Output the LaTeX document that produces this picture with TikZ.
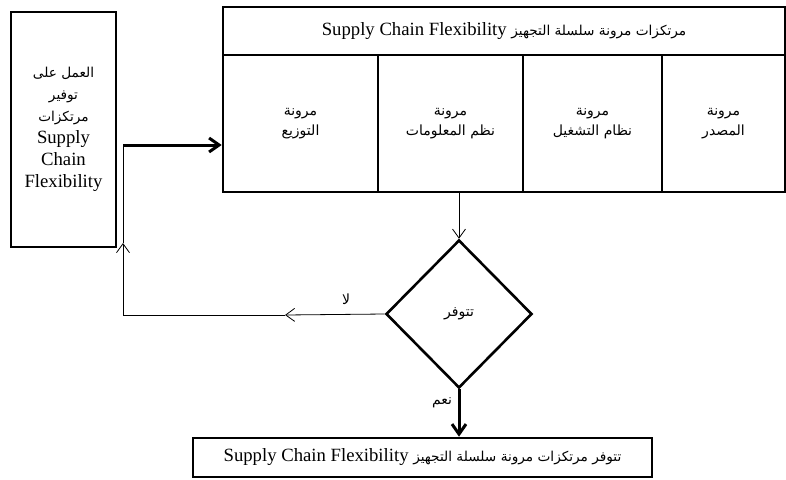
\documentclass[tikz,border=0pt]{standalone}
\usepackage{fontspec}
\setmainfont{Liberation Serif}
\newfontfamily\ar[Script=Arabic,Scale=0.73]{DejaVu Sans}
\TeXXeTstate=1
\usetikzlibrary{shapes.geometric,arrows.meta}

\tikzset{
  cell/.style={draw, line width=2.6pt, inner sep=0pt, align=center},
  bigtxt/.style={font=\fontsize{18.7}{22}\selectfont},
  coltxt/.style={font=\fontsize{19.2}{20}\selectfont},
  thin/.style={line width=0.8pt},
  thinarrow/.style={thin, -{Straight Barb[length=9pt,width=13pt,line width=0.8pt]}},
  thickarrow/.style={line width=3pt, -{Straight Barb[length=10pt,width=14pt,line width=3pt]}},
  lbl/.style={font=\fontsize{19.2}{20}\selectfont\ar, inner sep=0pt}
}

\begin{document}
\begin{tikzpicture}[x=1pt, y=-1pt]
  \useasboundingbox (0,0) rectangle (786,479);

  % left box: repeated search for the flexibility pillars
  \node[cell, bigtxt, minimum width=105pt, minimum height=235pt] (left) at (63.5,129.5)
    {{\ar\beginR العمل على\endR}\\{\ar\beginR توفير\endR}\\{\ar\beginR مرتكزات\endR}\\Supply\\Chain\\Flexibility};

  % header of the pillars table
  \node[cell, bigtxt, minimum width=562pt, minimum height=48pt] (head) at (504,31)
    {Supply Chain Flexibility {\ar\beginR مرتكزات مرونة سلسلة التجهيز\endR}};

  % the four pillars
  \node[cell, coltxt, minimum width=155pt, minimum height=137pt] (c1) at (300.5,123.5)
    {\ar\beginR مرونة\endR\\\ar\beginR التوزيع\endR};
  \node[cell, coltxt, minimum width=145pt, minimum height=137pt] (c2) at (450.5,123.5)
    {\ar\beginR مرونة\endR\\\ar\beginR نظم المعلومات\endR};
  \node[cell, coltxt, minimum width=139pt, minimum height=137pt] (c3) at (592.5,123.5)
    {\ar\beginR مرونة\endR\\\ar\beginR نظام التشغيل\endR};
  \node[cell, coltxt, minimum width=123pt, minimum height=137pt] (c4) at (723.5,123.5)
    {\ar\beginR مرونة\endR\\\ar\beginR المصدر\endR};

  % decision
  \node[draw, line width=2.6pt, diamond, minimum width=146pt, minimum height=148pt,
        inner sep=0pt, coltxt] (dec) at (459,314) {\ar\beginR تتوفر\endR};

  % result
  \node[cell, bigtxt, minimum width=459pt, minimum height=39pt] (res) at (422.5,457.5)
    {Supply Chain Flexibility {\ar\beginR تتوفر مرتكزات مرونة سلسلة التجهيز\endR}};

  % connectors
  \coordinate (j) at (123,145);
  \coordinate (nomid) at (285,315);
  \coordinate (corner) at (123,315);
  \coordinate (up) at (123,243);

  \draw[thickarrow] (j) -- (j -| c1.west);
  \draw[thinarrow] (dec.north |- c2.south) -- (dec.north);
  \draw[thinarrow] (dec.west) -- (nomid);
  \draw[thinarrow] (nomid) -- (corner) -- (up);
  \draw[thin] (up) -- (j);
  \draw[thickarrow] (dec.south) -- (dec.south |- res.north);

  \node[lbl] (no) at (346,299) {\beginR لا\endR};
  \node[lbl] (yes) at (442,403) {\beginR نعم\endR};
\end{tikzpicture}
\end{document}
